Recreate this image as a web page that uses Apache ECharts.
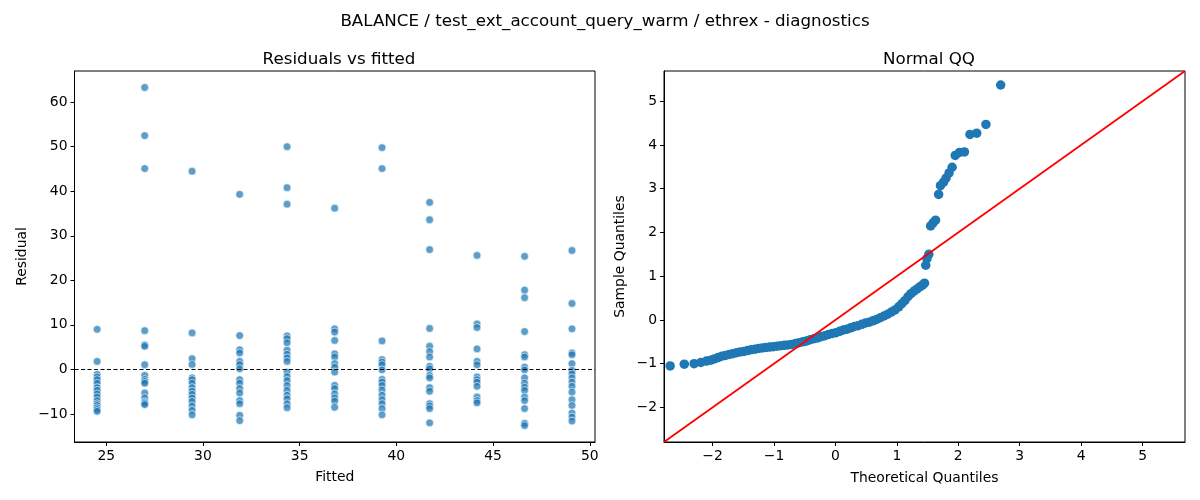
<!DOCTYPE html>
<html>
<head>
<meta charset="utf-8">
<script src="https://cdn.jsdelivr.net/npm/echarts@6.0.0/dist/echarts.min.js"></script>
<style>
  html, body { margin: 0; padding: 0; background: #fff; }
  #chart { width: 1200px; height: 500px; }
</style>
</head>
<body>
<div id="chart"></div>
<script>
// fitted value of each column of points in the left panel
var fittedLevels = [24.53, 26.99, 29.44, 31.9, 34.35, 36.81, 39.26, 41.72, 44.17, 46.63, 49.08];

// residuals (same order as fittedLevels)
var residualsByLevel = [
  [9.0, 1.8, -1.1, -1.7, -2.3, -3.1, -4.1, -4.7, -5.5, -6.2, -7.0, -7.7, -8.1, -8.6, -9.0, -9.4],
  [63.3, 52.5, 45.1, 8.7, 5.5, 5.2, 1.05, -1.35, -2.25, -2.7, -3.1, -5.3, -6.4, -7.3, -7.6, -7.9],
  [44.5, 8.2, 2.4, 1.1, -1.9, -2.3, -3.1, -4.1, -4.9, -5.6, -6.4, -7.2, -8.2, -9.2, -10.2],
  [39.3, 7.6, 4.4, 3.7, 1.8, 1.1, 0.15, -2.3, -3.1, -4.3, -5.3, -7.0, -7.7, -10.3, -11.5],
  [50.0, 40.8, 37.1, 7.5, 6.9, 6.0, 4.3, 3.4, 2.6, 1.8, -0.6, -1.6, -2.5, -3.6, -4.7, -5.8, -6.6, -7.7, -8.6],
  [36.2, 9.1, 8.4, 6.5, 3.5, 2.8, 1.3, 0.5, -0.6, -3.6, -4.3, -5.5, -6.4, -7.1, -8.5],
  [49.8, 45.1, 6.4, 2.2, 1.65, 1.05, -0.1, -2.25, -2.85, -3.6, -4.6, -5.8, -6.8, -7.7, -8.8, -10.2],
  [37.5, 33.6, 26.9, 9.2, 5.2, 4.0, 2.8, 0.7, 0.15, -1.35, -1.9, -4.1, -4.9, -7.7, -8.2, -8.8, -12.0],
  [25.6, 10.2, 9.4, 4.6, 1.8, 1.05, -1.7, -2.3, -2.85, -3.8, -6.2, -7.0, -7.5],
  [25.4, 17.8, 16.1, 8.5, 3.3, 2.8, 0.5, -0.1, -1.9, -3.1, -4.0, -4.7, -6.2, -7.0, -8.8, -12.1, -12.6],
  [26.7, 14.8, 9.1, 3.7, 3.3, 1.3, -0.2, -1.0, -1.9, -2.85, -3.8, -5.1, -6.8, -8.1, -9.8, -10.7, -11.6]
];

// QQ plot points
var qqTheoretical = [
  -2.69, -2.46, -2.30, -2.19, -2.10, -2.03, -1.97, -1.91, -1.85, -1.79,
  -1.73, -1.67, -1.61, -1.55, -1.49, -1.43, -1.37, -1.31, -1.25, -1.19,
  -1.13, -1.07, -1.01, -0.95, -0.89, -0.83, -0.77, -0.71, -0.65, -0.59,
  -0.53, -0.47, -0.41, -0.35, -0.29, -0.23, -0.17, -0.11, -0.05, 0.01,
  0.07, 0.13, 0.19, 0.25, 0.31, 0.37, 0.43, 0.49, 0.55, 0.61,
  0.67, 0.73, 0.79, 0.85, 0.91, 0.97, 1.03, 1.08, 1.13, 1.18,
  1.23, 1.28, 1.33, 1.38, 1.42, 1.45, 1.47, 1.49, 1.52, 1.55,
  1.59, 1.63, 1.68, 1.71, 1.76, 1.80, 1.85, 1.90, 1.95, 2.02,
  2.10, 2.19, 2.30, 2.45, 2.69
];
var qqSample = [
  -1.05, -1.01, -1.00, -0.97, -0.94, -0.92, -0.89, -0.86, -0.83, -0.81,
  -0.79, -0.77, -0.75, -0.73, -0.72, -0.70, -0.68, -0.67, -0.65, -0.64,
  -0.63, -0.62, -0.61, -0.60, -0.59, -0.58, -0.57, -0.56, -0.54, -0.52,
  -0.50, -0.48, -0.45, -0.43, -0.41, -0.38, -0.36, -0.33, -0.31, -0.29,
  -0.26, -0.23, -0.21, -0.18, -0.15, -0.13, -0.10, -0.07, -0.05, -0.02,
  0.01, 0.05, 0.09, 0.13, 0.18, 0.23, 0.30, 0.37, 0.44, 0.53,
  0.60, 0.66, 0.71, 0.76, 0.80, 0.84, 1.25, 1.40, 1.50, 2.15,
  2.22, 2.28, 2.87, 3.07, 3.15, 3.24, 3.36, 3.49, 3.76, 3.83,
  3.84, 4.24, 4.27, 4.47, 5.37
];

var fittedTicks = [25, 30, 35, 40, 45, 50];
var residualTicks = [-10, 0, 10, 20, 30, 40, 50, 60];
var qqTicks = [-2, -1, 0, 1, 2, 3, 4, 5];
var qqLimits = [-2.79, 5.69];

var font = "DejaVu Sans";
var myChart = echarts.init(document.getElementById("chart"));

function minus(v) {
  return String(v).replace("-", "\u2212");
}

function valueAxis(gridIndex, min, max, ticks, name, nameGap) {
  return {
    type: "value",
    gridIndex: gridIndex,
    min: min,
    max: max,
    name: name,
    nameLocation: "middle",
    nameGap: nameGap,
    nameTextStyle: { fontFamily: font, fontSize: 13.9, color: "#000" },
    axisLine: { show: true, onZero: false, lineStyle: { color: "#000", width: 1 } },
    axisTick: { show: true, length: 4, customValues: ticks, lineStyle: { color: "#000" } },
    axisLabel: {
      customValues: ticks,
      margin: 7,
      fontFamily: font,
      fontSize: 13.9,
      color: "#000",
      formatter: minus
    },
    splitLine: { show: false }
  };
}

initDiagnostics();
function initDiagnostics() {
  var residualPoints = [];
  for (var i = 0; i < fittedLevels.length; i++) {
    for (var j = 0; j < residualsByLevel[i].length; j++) {
      residualPoints.push([fittedLevels[i], residualsByLevel[i][j]]);
    }
  }
  var qqPoints = qqTheoretical.map(function (x, k) {
    return [x, qqSample[k]];
  });

  var option = {
    animation: false,
    backgroundColor: "#fff",
    title: [
      {
        text: "BALANCE / test_ext_account_query_warm / ethrex - diagnostics",
        left: 600, top: 8, textAlign: "center",
        textStyle: { fontFamily: font, fontSize: 16.7, fontWeight: "normal", color: "#000" }
      },
      {
        text: "Residuals vs fitted",
        left: 334, top: 46, textAlign: "center",
        textStyle: { fontFamily: font, fontSize: 16.7, fontWeight: "normal", color: "#000" }
      },
      {
        text: "Normal QQ",
        left: 924, top: 46, textAlign: "center",
        textStyle: { fontFamily: font, fontSize: 16.7, fontWeight: "normal", color: "#000" }
      }
    ],
    grid: [
      { left: 74.5, right: 605, top: 71, bottom: 58, show: true, borderColor: "#000", borderWidth: 1 },
      { left: 664, right: 15, top: 71, bottom: 58, show: true, borderColor: "#000", borderWidth: 1 }
    ],
    xAxis: [
      valueAxis(0, 23.36, 50.27, fittedTicks, "Fitted", 28),
      valueAxis(1, qqLimits[0], qqLimits[1], qqTicks, "Theoretical Quantiles", 29)
    ],
    yAxis: [
      valueAxis(0, -16.3, 67.0, residualTicks, "Residual", 45),
      valueAxis(1, qqLimits[0], qqLimits[1], qqTicks, "Sample Quantiles", 37)
    ],
    series: [
      {
        name: "residuals",
        type: "scatter",
        xAxisIndex: 0,
        yAxisIndex: 0,
        symbolSize: 7.8,
        itemStyle: { color: "rgba(31,119,180,0.72)", opacity: 1, borderColor: "#fff", borderWidth: 0.6 },
        data: residualPoints,
        markLine: {
          silent: true,
          symbol: "none",
          label: { show: false },
          lineStyle: { color: "#000", width: 1.2, type: [4, 2.5] },
          data: [{ yAxis: 0 }]
        }
      },
      {
        name: "qq",
        type: "scatter",
        xAxisIndex: 1,
        yAxisIndex: 1,
        symbolSize: 9.5,
        itemStyle: { color: "#1f77b4", opacity: 1 },
        data: qqPoints
      },
      {
        name: "45 degree line",
        type: "line",
        xAxisIndex: 1,
        yAxisIndex: 1,
        symbol: "none",
        z: 5,
        lineStyle: { color: "#ff0000", width: 1.8 },
        data: [[qqLimits[0], qqLimits[0]], [qqLimits[1], qqLimits[1]]]
      }
    ]
  };

  myChart.setOption(option);
}
</script>
</body>
</html>
